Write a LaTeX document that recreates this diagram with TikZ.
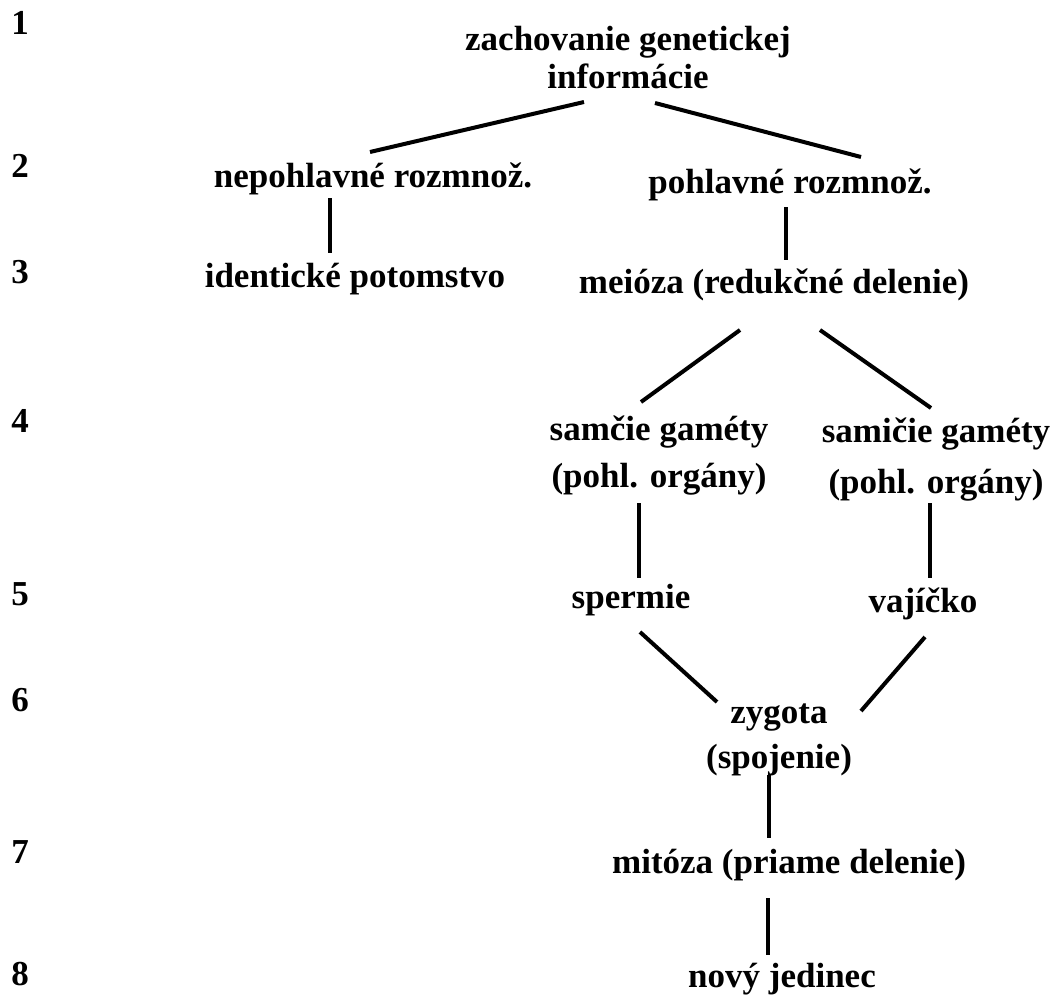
\documentclass[tikz,border=0pt]{standalone}
\usepackage{fontspec}
\setmainfont{Liberation Serif}
\usetikzlibrary{calc}
\tikzset{
  lbl/.style={anchor=base, inner sep=0pt, align=center, font=\fontsize{35}{42}\selectfont\bfseries},
  link/.style={line width=4pt}
}

\begin{document}
\begin{tikzpicture}[x=1pt, y=-1pt]
        \useasboundingbox[fill=white] (0,0) rectangle (1058,996);

        %% row numbers
        \foreach \a/\y in {1/34,2/177,3/283,4/432,5/605,6/711,7/863,8/985} {
          \node [lbl,name=num_l\a] at (20,\y) {\a};
        }

        %% labels (base = last line)
        \node [lbl] (lbl_l1) at (628,88) {zachovanie genetickej\\[-4pt]informácie};
        \node [lbl] (lbl_l2a) at (373,187) {nepohlavné rozmnož.};
        \node [lbl] (lbl_l2b) at (790,193) {pohlavné rozmnož.};
        \node [lbl] (lbl_l3a) at (355,287) {identické potomstvo};
        \node [lbl] (lbl_l3b) at (774,293) {meióza (redukčné delenie)};
        \node [lbl] (lbl_l4a) at (659,487) {samčie gaméty\\[5pt](pohl. orgány)};
        \node [lbl] (lbl_l4b) at (936,493) {samičie gaméty\\[9pt](pohl. orgány)};
        \node [lbl] (lbl_l5a) at (631,608) {spermie};
        \node [lbl] (lbl_l5b) at (923,612) {vajíčko};
        \node [lbl] (lbl_l6) at (779,768) {zygota\\[3pt](spojenie)};
        \node [lbl] (lbl_l7) at (789,873) {mitóza (priame delenie)};
        \node [lbl] (lbl_l8) at (782,987) {nový jedinec};

        %% connectors
        \draw [link] ($(lbl_l1.base)+(-44,14)$) -- ($(lbl_l2a.base)+(-3,-35)$);
        \draw [link] ($(lbl_l1.base)+(27,15)$) -- ($(lbl_l2b.base)+(71,-36)$);
        \draw [link] ($(lbl_l2a.base)+(-43,11)$) -- ($(lbl_l3a.base)+(-25,-34)$);
        \draw [link] ($(lbl_l2b.base)+(-4,14)$) -- ($(lbl_l3b.base)+(12,-33)$);
        \draw [link] ($(lbl_l3b.base)+(-34,37)$) -- ($(lbl_l4a.base)+(-18,-85)$);
        \draw [link] ($(lbl_l3b.base)+(46,37)$) -- ($(lbl_l4b.base)+(-5,-85)$);
        \draw [link] ($(lbl_l4a.base)+(-20,16)$) -- ($(lbl_l5a.base)+(8,-30)$);
        \draw [link] ($(lbl_l4b.base)+(-6,10)$) -- ($(lbl_l5b.base)+(7,-34)$);
        \draw [link] ($(lbl_l5a.base)+(9,24)$) -- ($(lbl_l6.base)+(-62,-66)$);
        \draw [link] ($(lbl_l5b.base)+(2,25)$) -- ($(lbl_l6.base)+(82,-57)$);
        \draw [link] ($(lbl_l6.base)+(-10,7)$) -- ($(lbl_l7.base)+(-20,-35)$);
        \draw [link] ($(lbl_l7.base)+(-21,25)$) -- ($(lbl_l8.base)+(-14,-32)$);

      \end{tikzpicture}
\end{document}
